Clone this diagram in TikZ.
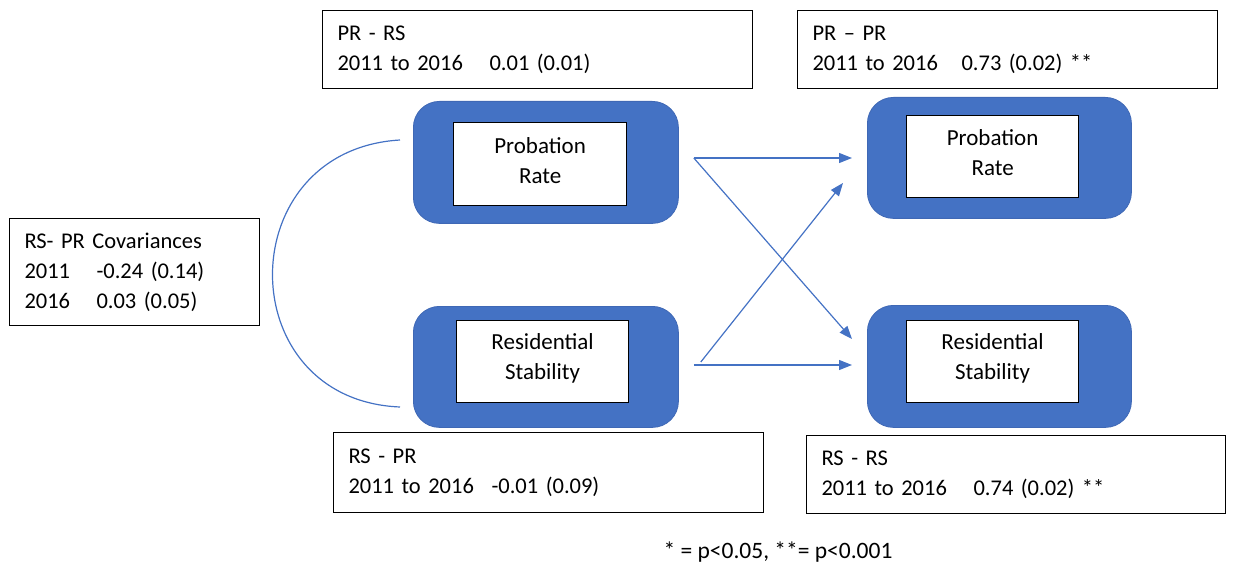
\documentclass[tikz,border=0pt]{standalone}
\usepackage{fontspec}
\setmainfont{Carlito}
\usetikzlibrary{arrows.meta}
\definecolor{officeblue}{HTML}{4472C4}
\definecolor{officeedge}{HTML}{3F68B5}
\begin{document}
\begin{tikzpicture}[x=1pt,y=-1pt,
  txt/.style={font=\fontsize{22.5}{30}\selectfont},
  lblbox/.style={txt, draw=black, line width=1pt, align=left, anchor=north west,
    inner xsep=15pt, inner ysep=0pt},
  bluebox/.style={fill=officeblue, draw=officeedge, line width=0.8pt,
    rounded corners=26pt, anchor=north west, inner sep=0pt},
  whitebox/.style={fill=white, draw=black, line width=1.2pt,
    anchor=north west, inner sep=0pt},
  boxtext/.style={font=\fontsize{23}{30}\selectfont, align=center, inner sep=0pt},
  link/.style={draw=officeblue, line width=1.2pt},
  arr/.style={link, -{Triangle[length=13pt,width=10pt]}}
]
\useasboundingbox (0,0) rectangle (1233,569);

% coefficient boxes
\node[lblbox, text width=400pt, minimum height=78pt] (prrs) at (322,10)
  {PR - RS\\\makebox[152pt][l]{2011 to 2016}0.01 (0.01)};
\node[lblbox, text width=390pt, minimum height=78pt] (prpr) at (797,10)
  {PR -- PR\\\makebox[149pt][l]{2011 to 2016}0.73 (0.02) **};
\node[lblbox, text width=400pt, minimum height=80pt] (rspr) at (333,432)
  {RS - PR\\\makebox[143pt][l]{2011 to 2016}-0.01 (0.09)};
\node[lblbox, text width=389pt, minimum height=78pt] (rsrs) at (806,435)
  {RS - RS\\\makebox[152pt][l]{2011 to 2016}0.74 (0.02) **};
\node[lblbox, text width=220pt, minimum height=107pt] (cov) at (9,218)
  {RS- PR Covariances\\\makebox[72pt][l]{2011}-0.24 (0.14)\\\makebox[72pt][l]{2016}0.03 (0.05)};

% variable boxes: blue frame, white inner panel, centred caption
\node[bluebox, minimum width=265pt, minimum height=122pt] (pr1) at (413,101) {};
\node[whitebox, minimum width=173pt, minimum height=83pt] (pr1t) at (453,122) {};
\node[boxtext] (pr1l) at ([yshift=3.5pt]pr1t.center) {Probation\\Rate};
\node[bluebox, minimum width=264pt, minimum height=121pt] (pr2) at (867,97) {};
\node[whitebox, minimum width=172pt, minimum height=82pt] (pr2t) at (906,115) {};
\node[boxtext] (pr2l) at ([yshift=3.5pt]pr2t.center) {Probation\\Rate};
\node[bluebox, minimum width=265pt, minimum height=121pt] (rs1) at (413,306) {};
\node[whitebox, minimum width=172pt, minimum height=82pt] (rs1t) at (456,320) {};
\node[boxtext] (rs1l) at ([yshift=3.5pt]rs1t.center) {Residential\\Stability};
\node[bluebox, minimum width=264pt, minimum height=122pt] (rs2) at (867,305) {};
\node[whitebox, minimum width=172pt, minimum height=82pt] (rs2t) at (906,320) {};
\node[boxtext] (rs2l) at ([yshift=3.5pt]rs2t.center) {Residential\\Stability};

% connector ends
\coordinate (prout) at ([xshift=15pt]pr1.east |- 0,158);
\coordinate (rsout) at ([xshift=15pt]rs1.east |- 0,365);
\coordinate (rsoutd) at ([xshift=22pt]rs1.east |- 0,362);
\coordinate (prin) at ([xshift=-15pt]pr2.west |- 0,158);
\coordinate (prind) at ([xshift=-24pt]pr2.west |- 0,183);
\coordinate (rsin) at ([xshift=-15pt]rs2.west |- 0,365);
\coordinate (rsind) at ([xshift=-15pt]rs2.west |- 0,339);
\coordinate (covtop) at ([xshift=-13pt]pr1.west |- 0,140);
\coordinate (covbot) at ([xshift=-13pt]rs1.west |- 0,407);

\draw[arr] (prout) -- (prin);
\draw[arr] (prout) -- (rsind);
\draw[arr] (rsoutd) -- (prind);
\draw[arr] (rsout) -- (rsin);
\draw[link] (covtop) .. controls (230,150) and (230,400) .. (covbot);

\node[font=\fontsize{23.5}{28}\selectfont] (note) at (778,552) {* = p<0.05, **= p<0.001};
\end{tikzpicture}
\end{document}
